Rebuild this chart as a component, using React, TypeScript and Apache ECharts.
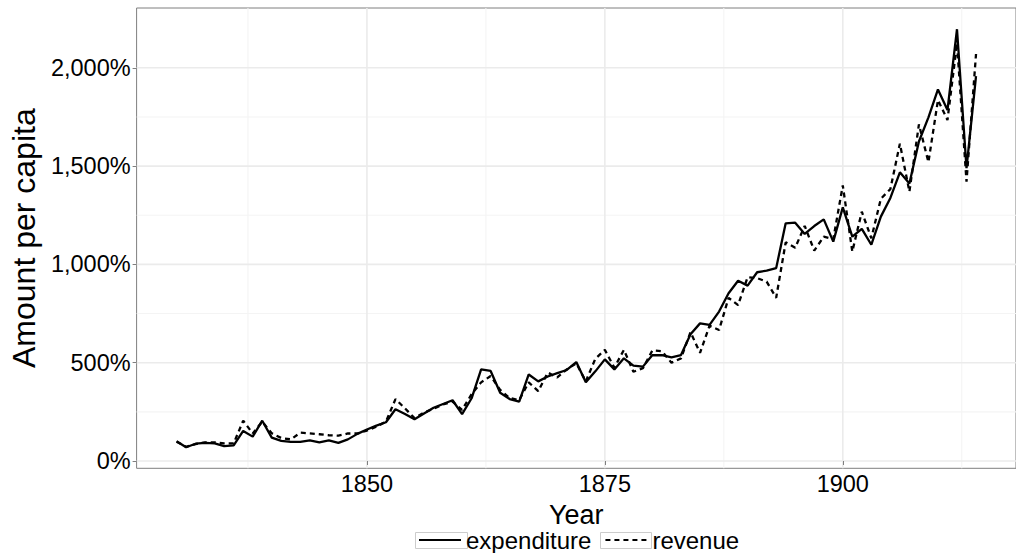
import React, { useEffect, useRef } from 'react';
import * as echarts from 'echarts';

const startYear = 1830;

const expenditure = [
  100, 70, 88, 92, 90, 76, 80, 153, 124, 205,
  119, 102, 97, 97, 105, 95, 105, 92, 110, 138,
  160, 180, 197, 263, 239, 212, 242, 271, 290, 309,
  238, 319, 466, 458, 347, 315, 302, 440, 405, 430,
  447, 463, 503, 400, 456, 517, 466, 522, 485, 480,
  539, 538, 527, 539, 645, 700, 692, 760, 853, 917,
  892, 960, 968, 981, 1209, 1212, 1155, 1195, 1229, 1116,
  1290, 1141, 1181, 1100, 1243, 1338, 1468, 1412, 1625, 1748,
  1890, 1785, 2196, 1489, 1958,
];

const revenue = [
  98, 72, 86, 95, 95, 90, 90, 205, 140, 200,
  141, 117, 110, 144, 141, 136, 131, 129, 140, 140,
  155, 175, 200, 315, 268, 218, 246, 266, 288, 302,
  260, 340, 400, 432, 362, 320, 310, 400, 355, 450,
  425, 466, 497, 405, 520, 565, 475, 565, 454, 472,
  563, 558, 500, 522, 655, 550, 688, 666, 830, 793,
  935, 930, 912, 830, 1112, 1085, 1196, 1070, 1141, 1128,
  1402, 1065, 1268, 1133, 1334, 1383, 1614, 1370, 1712, 1520,
  1836, 1734, 2125, 1421, 2070,
];

const seriesNames = ['expenditure', 'revenue'];
const xMajorTicks = [1850, 1875, 1900];
const xMinorGrid = [1837.5, 1862.5, 1887.5, 1912.5];
const yMajorTicks = [0, 500, 1000, 1500, 2000];
const yMinorGrid = [250, 750, 1250, 1750];
const xRange = [1825.8, 1918.2];
const yRange = [-37.1, 2304];

const FONT = '"Liberation Sans", Arial, Helvetica, sans-serif';

function fmtPct(v: number) {
  return String(v).replace(/\B(?=(\d{3})+(?!\d))/g, ',') + '%';
}

export default function App() {
  const ref = useRef<HTMLDivElement>(null);
  useEffect(() => {
    const chart = echarts.init(ref.current!, null, { renderer: 'svg' });
    const years = expenditure.map((_, i) => startYear + i);
    const gridData = [
      ...xMinorGrid.map((v) => [v, 0, 1]),
      ...yMinorGrid.map((v) => [1850, v, 3]),
      ...xMajorTicks.map((v) => [v, 0, 0]),
      ...yMajorTicks.map((v) => [1850, v, 2]),
    ];
    const option: any = {
      animation: false,
      backgroundColor: '#ffffff',
      textStyle: { fontFamily: FONT },
      grid: {
        left: 128,
        top: 8,
        right: -6.5,
        bottom: 84.7,
        show: true,
        borderColor: '#7f7f7f',
        borderWidth: 1,
        backgroundColor: 'transparent',
        containLabel: false,
      },
      legend: {
        data: seriesNames,
        left: 418,
        top: 528,
        padding: 0,
        itemWidth: 42,
        itemHeight: 16,
        itemGap: 13,
        itemStyle: { color: 'rgba(0,0,0,0)', borderColor: 'rgba(0,0,0,0)', borderWidth: 0 },
        textStyle: { fontSize: 24, color: '#000', fontFamily: FONT },
      },
      graphic: [
        { type: 'rect', left: 413, top: 530, shape: { width: 52, height: 16 }, style: { fill: 'none', stroke: '#cccccc', lineWidth: 1 }, z: -1 },
        { type: 'rect', left: 598, top: 530, shape: { width: 51, height: 16 }, style: { fill: 'none', stroke: '#cccccc', lineWidth: 1 }, z: -1 },
      ],
      xAxis: {
        type: 'value',
        min: xRange[0],
        max: xRange[1],
        name: 'Year',
        nameLocation: 'middle',
        nameGap: 26,
        nameTextStyle: { fontSize: 27, color: '#000', fontFamily: FONT },
        axisLine: { show: false },
        splitLine: { show: false },
        axisTick: { show: true, length: 4, customValues: xMajorTicks, lineStyle: { color: '#7f7f7f' } },
        axisLabel: {
          customValues: xMajorTicks,
          fontSize: 23.5,
          color: '#000',
          margin: 4,
          fontFamily: FONT,
          formatter: (v: number) => String(v),
        },
      },
      yAxis: {
        type: 'value',
        min: yRange[0],
        max: yRange[1],
        name: 'Amount per capita',
        nameLocation: 'middle',
        nameGap: 84,
        nameTextStyle: { fontSize: 32, color: '#000', fontFamily: FONT },
        axisLine: { show: false },
        splitLine: { show: false },
        axisTick: { show: true, length: 4, customValues: yMajorTicks, lineStyle: { color: '#7f7f7f' } },
        axisLabel: {
          customValues: yMajorTicks,
          fontSize: 23.5,
          color: '#000',
          margin: 6,
          fontFamily: FONT,
          formatter: (v: number) => fmtPct(v),
        },
      },
      series: [
        {
          type: 'custom',
          name: 'gridlines',
          silent: true,
          z: 0,
          data: gridData,
          renderItem: (params: any, api: any) => {
            const kind = api.value(2);
            const cs = params.coordSys;
            if (kind < 2) {
              const x = api.coord([api.value(0), 0])[0];
              return {
                type: 'line',
                shape: { x1: x, y1: cs.y, x2: x, y2: cs.y + cs.height },
                style: { stroke: kind === 0 ? '#ebebeb' : '#f4f4f4', lineWidth: kind === 0 ? 1.6 : 1.1 },
              };
            }
            const y = api.coord([1850, api.value(1)])[1];
            return {
              type: 'line',
              shape: { x1: cs.x, y1: y, x2: cs.x + cs.width, y2: y },
              style: { stroke: kind === 2 ? '#ebebeb' : '#f4f4f4', lineWidth: kind === 2 ? 1.6 : 1.1 },
            };
          },
        },
        {
          type: 'line',
          name: seriesNames[0],
          z: 3,
          data: years.map((y, i) => [y, expenditure[i]]),
          showSymbol: false,
          symbol: 'none',
          lineStyle: { color: '#000', width: 2.3, type: 'solid' },
          itemStyle: { color: '#000' },
        },
        {
          type: 'line',
          name: seriesNames[1],
          z: 3,
          data: years.map((y, i) => [y, revenue[i]]),
          showSymbol: false,
          symbol: 'none',
          lineStyle: { color: '#000', width: 2.3, type: [5, 4] },
          itemStyle: { color: '#000' },
        },
      ],
    };
    chart.setOption(option);
    return () => chart.dispose();
  }, []);
  return <div ref={ref} style={{ position: 'absolute', left: 0, top: 0, width: 1016, height: 553 }} />;
}
